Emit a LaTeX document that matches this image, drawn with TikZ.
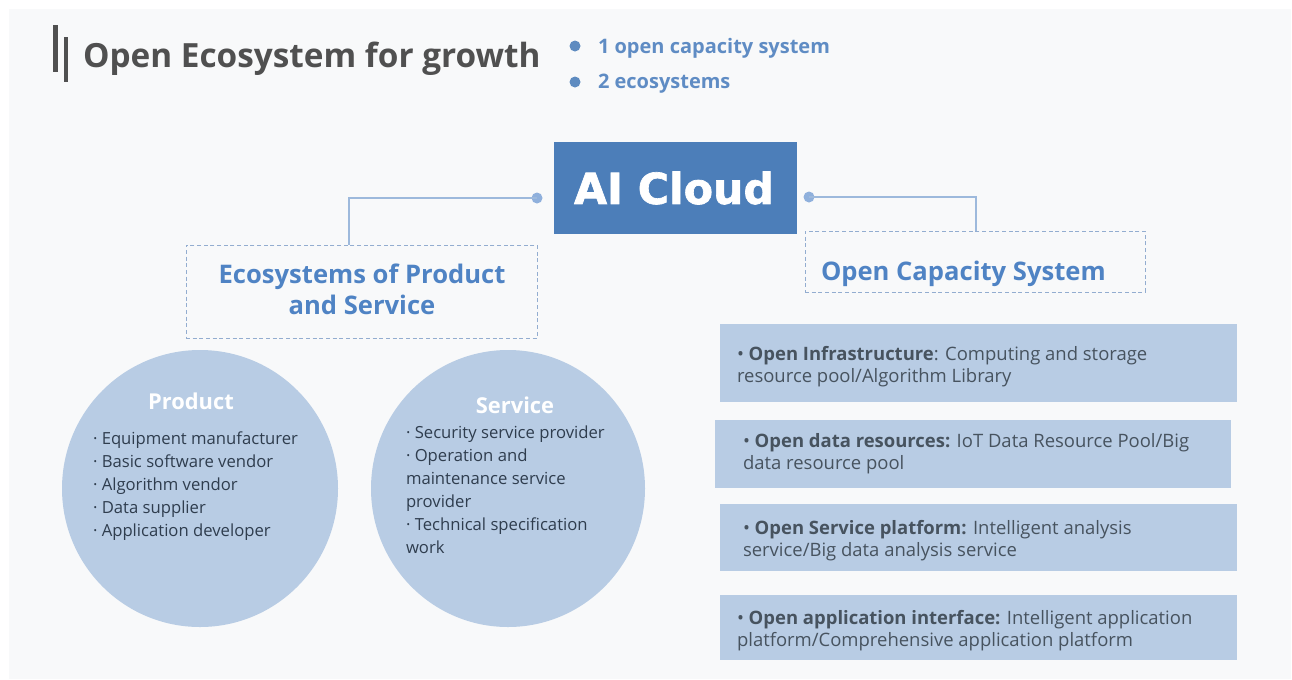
\documentclass[tikz,border=0pt]{standalone}
\usepackage{fontspec}
\setmainfont{Open Sans}
\newfontfamily\heavyfont[FakeBold=1.6]{DejaVu Sans Bold}
\usetikzlibrary{shapes.geometric}
\definecolor{panel}{HTML}{F8F9FA}
\definecolor{deepblue}{HTML}{4C7EB9}
\definecolor{paleblue}{HTML}{B8CCE4}
\definecolor{linkblue}{HTML}{9DB9DC}
\definecolor{dotblue}{HTML}{8FB0DC}
\definecolor{headblue}{HTML}{4F83C4}
\definecolor{subblue}{HTML}{5F8CC4}
\definecolor{titlegrey}{HTML}{505050}
\definecolor{dashgrey}{HTML}{93ADD0}
\definecolor{ink}{HTML}{2F3D4E}
\definecolor{softink}{HTML}{47535F}
\def\u{0.75pt}
\tikzset{
  x=0.75pt,y=-0.75pt,
  every node/.style={inner sep=0pt,outer sep=0pt},
  linkdot/.style={circle,fill=dotblue,minimum size=11*\u},
  link/.style={draw=linkblue,line width=1.1pt},
  dashbox/.style={draw=dashgrey,dashed,dash pattern=on 3pt off 2pt,line width=0.7pt},
  palebox/.style={fill=paleblue},
  bubble/.style={ellipse,fill=paleblue},
  headtext/.style={text=headblue,font=\fontsize{19.2}{23}\selectfont\bfseries,align=center},
  bubblehead/.style={text=white,font=\fontsize{16.4}{18}\selectfont\bfseries},
  bubbletext/.style={text=ink,anchor=west,align=left,font=\fontsize{12.5}{17.25}\selectfont},
  boxtext/.style={text=softink,anchor=west,align=left,font=\fontsize{13.85}{16.5}\selectfont},
  subtext/.style={text=subblue,anchor=west,font=\fontsize{15}{18}\selectfont\bfseries},
  subdot/.style={circle,fill=deepblue!90!white,minimum size=11*\u},
  titlebar/.style={fill=titlegrey}
}
\begin{document}
\begin{tikzpicture}
\useasboundingbox (0,0) rectangle (1292,679);
\fill[white] (0,0) rectangle (1292,679);
\fill[panel] (9,9) rectangle (1291,679);

% title
\fill[titlebar] (53,25) rectangle (58,72);
\fill[titlebar] (64,37) rectangle (68,82);
\node[anchor=west,text=titlegrey,font=\fontsize{25}{30}\selectfont\bfseries] (title) at (83,59) {Open Ecosystem for growth};
\node[subdot] (b1) at (575,46) {};
\node[subdot] (b2) at (575,82) {};
\node[subtext] (s1) at (598,48) {1 open capacity system};
\node[subtext] (s2) at (598,84) {2 ecosystems};

% centre
\node[fill=deepblue,minimum width=243*\u,minimum height=92*\u] (cloud) at (675.5,188) {};
\node[text=white,font=\heavyfont\fontsize{32}{36}\selectfont] (cloudtext) at (674,188) {AI Cloud};

\node[linkdot] (dotL) at (537,198) {};
\node[linkdot] (dotR) at (809,197) {};

\node[dashbox,minimum width=351*\u,minimum height=93*\u] (boxL) at (361.5,291.5) {};
\node[dashbox,minimum width=340*\u,minimum height=61*\u] (boxR) at (975,261.5) {};
\coordinate (jL) at (349,245);
\coordinate (jR) at (976,231);
\draw[link] (dotL.center) -| (jL);
\draw[link] (dotR.center) -| (jR);
\node[headtext] (headL) at (362,289) {Ecosystems of Product\\and Service};
\node[headtext,anchor=west] (headR) at (821,274) {Open Capacity System};

% bubbles
\node[bubble,minimum width=276*\u,minimum height=277*\u] (prod) at (200,488.5) {};
\node[bubble,minimum width=274*\u,minimum height=277*\u] (serv) at (508,488.5) {};
\node[bubblehead] (prodh) at (191,401) {Product};
\node[bubblehead] (servh) at (515,405) {Service};
\node[bubbletext] (prodt) at (93,486.5) {· Equipment manufacturer\\· Basic software vendor\\· Algorithm vendor\\· Data supplier\\· Application developer};
\node[bubbletext] (servt) at (406,490) {· Security service provider\\· Operation and\\maintenance service\\provider\\· Technical specification\\work};

% right boxes
\node[palebox,minimum width=517*\u,minimum height=78*\u] (r1) at (978.5,363) {};
\node[palebox,minimum width=516*\u,minimum height=68*\u] (r2) at (973,454) {};
\node[palebox,minimum width=517*\u,minimum height=67*\u] (r3) at (978.5,537.5) {};
\node[palebox,minimum width=517*\u,minimum height=65*\u] (r4) at (978.5,627.5) {};
\node[boxtext] (t1) at (737,366.5) {• \textbf{Open Infrastructure}: Computing and storage\\resource pool/Algorithm Library};
\node[boxtext] (t2) at (743,453.5) {• \textbf{Open data resources:} IoT Data Resource Pool/Big\\data resource pool};
\node[boxtext] (t3) at (743,540.5) {• \textbf{Open Service platform:} Intelligent analysis\\service/Big data analysis service};
\node[boxtext] (t4) at (737,630.5) {• \textbf{Open application interface:} Intelligent application\\platform/Comprehensive application platform};
\end{tikzpicture}
\end{document}
